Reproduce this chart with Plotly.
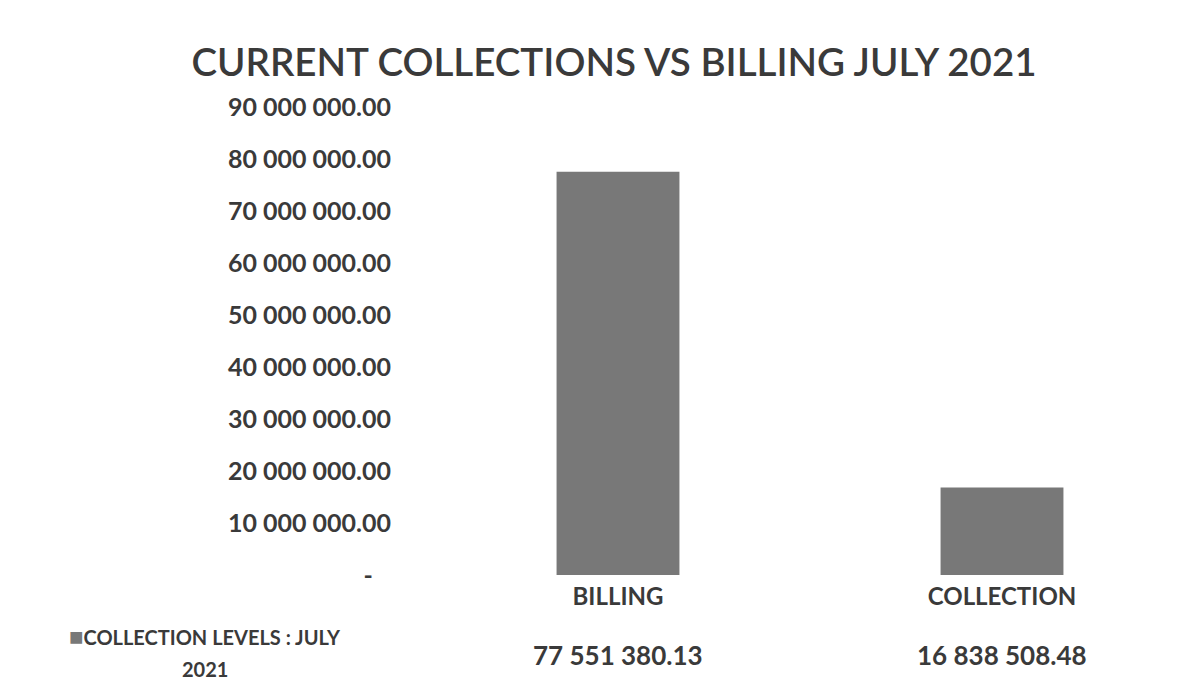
import plotly.graph_objects as go

# Billing vs collection figures for July 2021
categories = ["BILLING", "COLLECTION"]
amounts = [77551380.13, 16838508.48]
series_label_lines = ["COLLECTION LEVELS : JULY", "2021"]

tick_values = [0, 10000000, 20000000, 30000000, 40000000, 50000000,
               60000000, 70000000, 80000000, 90000000]
tick_labels = ["-\u00a0\u00a0\u00a0", "10 000 000.00", "20 000 000.00", "30 000 000.00",
               "40 000 000.00", "50 000 000.00", "60 000 000.00", "70 000 000.00",
               "80 000 000.00", "90 000 000.00"]

FONT = "Lato"
TEXT = "#3a3a3a"
BAR = "#787878"

W, H = 1204, 686
PLOT_L, PLOT_R, PLOT_T, PLOT_B = 426, 1194, 107, 575
plot_h = PLOT_B - PLOT_T
plot_w = PLOT_R - PLOT_L


def fmt(v):
    return f"{v:,.2f}".replace(",", " ")


def py(px):
    # pixel row -> paper coordinate
    return (PLOT_B - px) / plot_h


def pxx(px):
    return (px - PLOT_L) / plot_w


fig = go.Figure()
fig.add_trace(go.Bar(
    x=categories, y=amounts,
    marker=dict(color=BAR, line=dict(width=0)),
    width=0.32, showlegend=False,
))

# data table row: values under each category
for cat, val in zip(categories, amounts):
    fig.add_annotation(
        x=cat, xref="x", y=py(655), yref="paper",
        text=f"<b>{fmt(val)}</b>", showarrow=False,
        font=dict(family=FONT, size=26, color=TEXT),
        xanchor="center", yanchor="middle",
    )

# series key at the left of the table row
fig.add_annotation(
    x=pxx(205), xref="paper", y=py(635), yref="paper",
    text=(f"<span style='color:{BAR};font-size:24px'>■</span>"
          f"<b>{series_label_lines[0]}</b>"),
    showarrow=False, font=dict(family=FONT, size=20, color=TEXT),
    xanchor="center", yanchor="middle",
)
fig.add_annotation(
    x=pxx(205), xref="paper", y=py(669), yref="paper",
    text=f"<b>{series_label_lines[1]}</b>",
    showarrow=False, font=dict(family=FONT, size=20, color=TEXT),
    xanchor="center", yanchor="middle",
)

fig.update_layout(
    width=W, height=H,
    margin=dict(l=PLOT_L, r=W - PLOT_R, t=PLOT_T, b=H - PLOT_B, pad=0),
    paper_bgcolor="white", plot_bgcolor="white",
    title=dict(
        text="CURRENT COLLECTIONS VS BILLING JULY 2021",
        x=614 / W, xanchor="center", y=1 - 63 / H, yanchor="middle",
        font=dict(family=FONT, size=38.5, color=TEXT, weight=600),
    ),
    xaxis=dict(
        showgrid=False, showline=False, zeroline=False,
        tickfont=dict(family=FONT, size=24, color=TEXT, weight="bold"),
        ticklabelstandoff=5,
    ),
    yaxis=dict(
        range=[0, 90000000], tickvals=tick_values, ticktext=tick_labels,
        showgrid=False, showline=False, zeroline=False,
        tickfont=dict(family=FONT, size=25, color=TEXT, weight="bold"),
        ticklabelstandoff=34,
    ),
)

fig.write_html("out.html")
